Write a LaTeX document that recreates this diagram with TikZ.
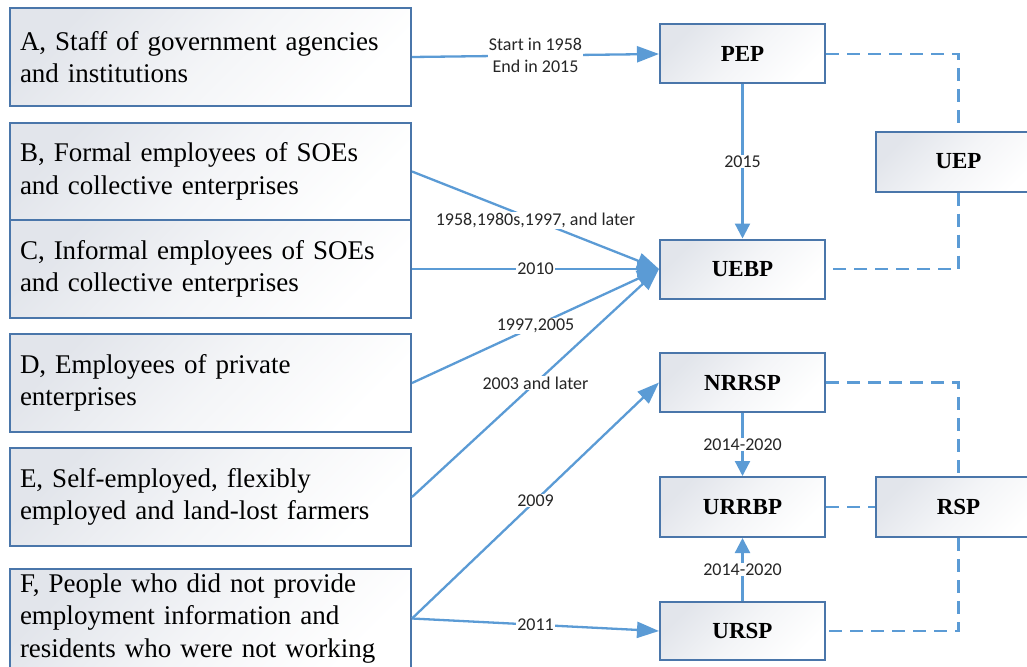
\documentclass[tikz,border=0pt]{standalone}
\usepackage{fontspec}
\setmainfont{Liberation Serif}
\newfontfamily\boxfont{Liberation Serif}
\newfontfamily\labfont{Carlito}
\usetikzlibrary{arrows.meta}
\definecolor{boxborder}{RGB}{74,118,170}
\definecolor{linecol}{RGB}{91,155,213}
\definecolor{boxgray}{RGB}{226,229,235}
\begin{document}
\begin{tikzpicture}[x=1pt,y=-1pt,
  box/.style={draw=boxborder, line width=2pt, top color=boxgray, bottom color=white, middle color=white!60!boxgray, shading angle=45, inner sep=0pt},
  leftbox/.style={box, minimum width=401pt, text width=381pt, align=left, font=\boxfont\fontsize{27}{32.5}\selectfont},
  rightbox/.style={box, minimum width=165pt, minimum height=59pt, font=\boxfont\bfseries\fontsize{23}{27}\selectfont},
  conn/.style={draw=linecol, line width=2.3pt, -{Triangle[length=22pt,width=16pt]}},
  vconn/.style={draw=linecol, line width=2.3pt, -{Triangle[length=15pt,width=15pt]}},
  dline/.style={draw=linecol, line width=2.3pt, dash pattern=on 13pt off 8pt},
  lab/.style={fill=white, inner sep=1pt, font=\labfont\fontsize{18}{22}\selectfont, text=black!85, align=center}
]
\useasboundingbox (0,0) rectangle (1027,666);
\clip (0,0) rectangle (1027,666);

% left boxes
\node[leftbox, minimum height=98pt] (A) at (210.5,57) {A, Staff of government agencies\\and institutions};
\node[leftbox, minimum height=97pt] (B) at (210.5,171.5) {B, Formal employees of SOEs\\and collective enterprises};
\node[leftbox, minimum height=98pt] (C) at (210.5,269) {C, Informal employees of SOEs\\and collective enterprises};
\node[leftbox, minimum height=98pt] (D) at (210.5,383) {D, Employees of private\\enterprises};
\node[leftbox, minimum height=98pt] (E) at (210.5,497) {E, Self-employed, flexibly\\employed and land-lost farmers};
\node[leftbox, minimum height=99pt] (F) at (210.5,618.5) {F, People who did not provide\\employment information and\\residents who were not working};

% right boxes
\node[rightbox] (PEP) at (742.5,54) {PEP};
\node[rightbox] (UEBP) at (742.5,269) {UEBP};
\node[rightbox, minimum height=60pt] (UEP) at (958.5,161.5) {UEP};
\node[rightbox] (NRRSP) at (742.5,382.5) {NRRSP};
\node[rightbox, minimum height=60pt] (URRBP) at (742.5,507) {URRBP};
\node[rightbox, minimum height=60pt] (RSP) at (958.5,507) {RSP};
\node[rightbox, minimum height=58pt] (URSP) at (742.5,631) {URSP};

% dashed links
\draw[dline] (PEP.east) -| (UEP.north);
\draw[dline] (UEP.south) |- (UEBP.east);
\draw[dline] (NRRSP.east) -| (RSP.north);
\draw[dline] (URRBP.east) -- (RSP.west);
\draw[dline] (RSP.south) |- (URSP.east);

% arrows
\draw[conn] (A.east) -- node[lab]{Start in 1958\\End in 2015} (PEP.west);
\draw[conn] (B.east) -- node[lab]{1958,1980s,1997, and later} (UEBP.west);
\draw[conn] (C.east) -- node[lab]{2010} (UEBP.west);
\draw[conn] (D.east) -- node[lab]{1997,2005} (UEBP.west);
\draw[conn] (E.east) -- node[lab]{2003 and later} (UEBP.west);
\draw[conn] (F.east) -- node[lab]{2009} (NRRSP.west);
\draw[conn] (F.east) -- node[lab]{2011} (URSP.west);

\draw[vconn] (PEP.south) -- node[lab]{2015} (UEBP.north);
\draw[vconn] (NRRSP.south) -- node[lab]{2014-2020} (URRBP.north);
\draw[vconn] (URSP.north) -- node[lab]{2014-2020} (URRBP.south);
\end{tikzpicture}
\end{document}
